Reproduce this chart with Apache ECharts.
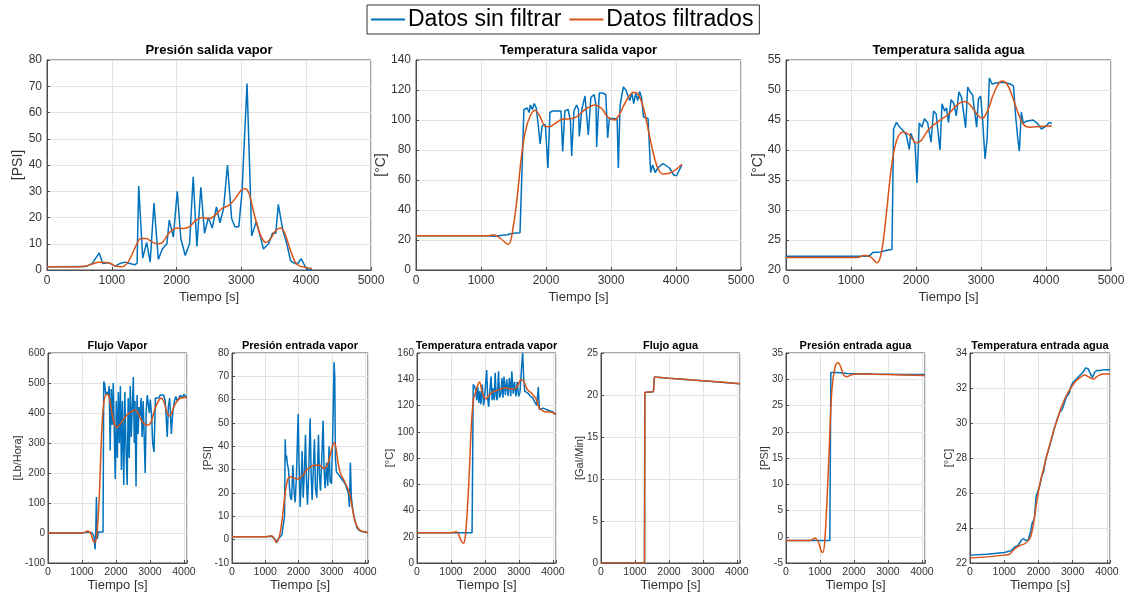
<!DOCTYPE html>
<html><head><meta charset="utf-8">
<script src="https://cdn.jsdelivr.net/npm/echarts@6/dist/echarts.min.js"></script>
<style>html,body{margin:0;padding:0;background:#fff}#c{width:1136px;height:598px}</style>
</head><body><div id="c"></div>
<script>
// ---------- DATA ----------
const titles = ['Presión salida vapor','Temperatura salida vapor','Temperatura salida agua','Flujo Vapor','Presión entrada vapor','Temperatura entrada vapor','Flujo agua','Presión entrada agua','Temperatura entrada agua'];
const yNames = ['[PSI]','[°C]','[°C]','[Lb/Hora]','[PSI]','[°C]','[Gal/Min]','[PSI]','[°C]'];
const xName = 'Tiempo [s]';
const legendNames = ['Datos sin filtrar','Datos filtrados'];

const psv_raw = [[0,1.2],[600,1.3],[700,2.5],[805,6.5],[860,2.5],[950,2.8],[1050,1.5],[1130,2.5],[1200,3],[1280,2.5],[1350,2],[1390,2.5],[1415,32],[1477,4.5],[1538,10.5],[1592,3],[1651,25.5],[1718,4],[1780,8],[1850,10],[1887,19],[1950,12.5],[2010,30],[2065,12],[2133,5.5],[2200,10],[2256,35.5],[2313,9],[2374,31.5],[2431,14],[2490,20],[2550,16],[2615,24],[2670,18],[2725,23.5],[2785,40],[2850,19.5],[2900,16.5],[2960,16.5],[3010,30],[3087,71],[3159,13],[3230,18.5],[3290,13],[3340,8],[3420,10],[3480,14],[3530,14],[3570,25],[3640,15],[3700,10],[3760,3.5],[3820,2.5],[3870,2.5],[3923,4.3],[3990,1],[4030,0.2],[4090,0]];
const psv_filt = [[0,1.2],[500,1.2],[600,1.5],[700,2.3],[800,3],[950,2.8],[1050,1.6],[1150,1.2],[1250,3],[1350,8],[1450,12],[1530,12],[1600,11],[1700,10],[1780,10.5],[1880,14],[2000,16],[2100,15.8],[2200,16.5],[2300,19],[2400,20],[2500,19.5],[2600,21],[2700,23.5],[2800,24.5],[2900,27],[3000,30.5],[3060,31],[3120,29],[3200,21],[3300,13],[3380,10.5],[3450,12],[3530,15],[3600,16],[3670,14],[3750,8],[3830,3],[3900,1.5],[4000,1],[4090,0.5]];

const tsv_raw = [[0,22.8],[1100,22.8],[1200,22.5],[1300,23],[1400,23.5],[1500,24.5],[1600,24.8],[1630,23.5],[1660,107],[1690,106],[1710,108],[1740,105],[1760,110],[1790,107],[1820,111],[1850,108],[1880,97],[1910,84],[1940,96],[1990,97],[2030,68],[2060,105],[2100,106],[2130,107],[2180,106],[2230,106],[2256,79],[2290,106],[2340,107],[2375,100],[2395,76],[2430,106],[2470,110],[2500,107],[2513,89],[2550,107],[2600,116],[2630,116],[2651,90],[2690,115],[2740,117],[2770,110],[2779,82],[2820,118],[2870,118],[2920,117],[2949,88],[2975,101],[3050,101],[3095,100],[3113,68],[3140,110],[3190,122],[3230,120],[3260,116],[3290,113],[3320,118],[3350,111],[3380,118],[3410,113],[3440,119],[3470,115],[3500,102],[3570,101],[3610,65],[3640,70],[3680,65],[3720,68],[3800,71],[3900,68],[3970,63],[4010,63],[4090,70]];
const tsv_filt = [[0,22.8],[1100,22.8],[1200,23.5],[1300,21],[1420,17],[1500,30],[1560,50],[1620,75],[1680,92],[1750,102],[1830,106.5],[1900,103],[1980,96],[2050,95.5],[2150,98],[2250,100.5],[2400,101],[2500,103],[2600,107],[2750,110],[2850,108],[2950,102],[3050,100],[3120,103],[3200,110],[3280,116],[3350,118.5],[3420,117],[3500,108],[3580,92],[3650,78],[3720,68],[3800,64],[3900,64.5],[4000,67],[4090,70.5]];

const tsa_raw = [[0,22.3],[1250,22.3],[1300,22.5],[1330,22.9],[1450,23],[1550,23.3],[1630,23.4],[1655,43.5],[1700,44.6],[1750,43.8],[1800,43.3],[1850,42.5],[1897,40.1],[1920,42.8],[1950,42.5],[1985,41],[2015,34.5],[2050,44.5],[2090,43.8],[2130,45.2],[2180,44.5],[2231,41.3],[2270,46.5],[2310,46],[2369,40],[2400,47.7],[2440,46.5],[2470,47],[2500,44.6],[2540,48.4],[2580,47.8],[2620,45.7],[2660,49.7],[2700,48.8],[2764,43.7],[2795,50.5],[2830,49.7],[2870,49.2],[2933,43.8],[2960,48.5],[2995,49],[3025,45],[3062,38.5],[3095,42],[3128,52],[3170,51],[3250,51.2],[3350,51.3],[3450,51],[3500,50.7],[3530,46],[3565,42],[3590,39.8],[3620,46.3],[3650,44.5],[3700,44.8],[3800,45],[3870,44.4],[3930,43.5],[4000,44],[4050,44.6],[4090,44.4]];
const tsa_filt = [[0,22.1],[1100,22.1],[1200,22.4],[1300,22.2],[1400,21.2],[1470,23],[1550,30],[1620,37],[1700,41.5],[1800,43],[1900,42.5],[2000,41.2],[2080,41.6],[2200,43.5],[2350,44.8],[2500,46],[2650,47.7],[2750,48.1],[2850,47.3],[2950,45.8],[3020,45.3],[3100,46.5],[3200,49.5],[3320,51.5],[3400,51],[3480,49],[3560,46.5],[3650,44.3],[3750,43.8],[3900,43.9],[4090,44]];

const fv_raw = [[0,0],[1000,0],[1100,2],[1200,3],[1300,0],[1350,-10],[1385,-55],[1405,0],[1425,120],[1450,-20],[1480,3],[1620,3],[1640,505],[1670,495],[1700,462],[1740,470],[1770,460],[1800,490],[1830,275],[1860,480],[1890,360],[1920,500],[1980,180],[2010,440],[2040,250],[2070,470],[2100,300],[2130,490],[2160,210],[2190,440],[2230,160],[2260,470],[2290,300],[2330,160],[2360,450],[2390,250],[2420,490],[2450,320],[2510,520],[2540,300],[2560,440],[2590,155],[2620,460],[2650,330],[2680,420],[2710,390],[2740,450],[2770,320],[2800,440],[2860,200],[2890,410],[2920,460],[2950,430],[2980,400],[3010,445],[3050,390],[3080,300],[3120,270],[3160,450],[3200,455],[3260,450],[3300,460],[3350,455],[3400,460],[3450,440],[3510,320],[3540,420],[3580,450],[3630,330],[3670,400],[3720,440],[3760,455],[3800,440],[3850,445],[3900,460],[3950,450],[4000,462],[4050,455],[4090,455]];
const fv_filt = [[0,0],[1000,0],[1100,3],[1150,7],[1250,0],[1330,-25],[1380,-32],[1430,-10],[1500,100],[1550,250],[1600,380],[1650,440],[1700,460],[1760,462],[1820,440],[1880,400],[1950,365],[2020,352],[2100,360],[2200,375],[2300,390],[2400,400],[2500,408],[2580,410],[2650,400],[2750,375],[2850,362],[2950,360],[3050,375],[3150,415],[3250,440],[3330,450],[3400,440],[3480,410],[3560,390],[3620,395],[3700,420],[3800,440],[3900,450],[4000,452],[4090,452]];

const pev_raw = [[0,1.2],[1000,1.2],[1100,1.4],[1200,1.5],[1300,0],[1350,-1],[1400,0.5],[1450,0],[1500,2],[1560,8],[1580,10],[1600,43],[1620,34],[1640,36],[1670,32],[1700,30],[1730,22],[1760,18],[1790,17],[1830,32],[1870,20],[1900,16],[1940,28],[1990,54],[2020,30],[2050,14],[2080,25],[2110,38],[2140,18],[2180,30],[2210,45],[2240,25],[2270,15],[2310,30],[2350,52],[2380,28],[2410,17],[2450,32],[2480,43],[2510,22],[2550,18],[2600,45],[2630,28],[2660,21],[2700,35],[2740,51],[2770,30],[2800,22],[2840,33],[2880,23],[2920,40],[2950,25],[2990,24],[3030,45],[3070,76],[3090,70],[3110,35],[3140,29],[3200,28],[3250,28],[3300,26],[3350,25],[3400,24],[3450,22],[3500,20],[3530,14],[3560,33],[3590,18],[3640,12],[3700,8],[3760,5],[3820,4],[3900,3.5],[4000,3.3],[4090,3]];
const pev_filt = [[0,1.2],[1000,1.2],[1100,1.5],[1200,1.6],[1270,0.5],[1330,-1.2],[1380,-0.5],[1450,3],[1520,10],[1600,20],[1680,26],[1750,27],[1850,26.5],[1950,26],[2050,26.5],[2150,28],[2250,30],[2400,31.5],[2550,32],[2650,31.8],[2750,30.5],[2850,31.5],[2950,36],[3030,40.5],[3080,41.5],[3130,39],[3200,32],[3270,28],[3350,26],[3450,23],[3530,20],[3600,15],[3680,9],[3750,6],[3850,4],[4000,3.3],[4090,3]];

const tev_raw = [[0,23],[1620,23],[1655,136],[1700,134],[1730,131],[1760,124],[1790,134],[1820,122],[1850,131],[1880,121],[1920,136],[1960,120],[2000,130],[2050,147],[2080,125],[2110,119],[2140,130],[2180,142],[2210,124],[2240,133],[2270,124],[2300,145],[2330,127],[2360,124],[2400,146],[2430,126],[2470,129],[2500,141],[2530,126],[2560,142],[2600,128],[2640,140],[2680,127],[2720,141],[2760,127],[2790,146],[2830,129],[2870,138],[2910,127],[2950,138],[2990,127],[3030,130],[3080,150],[3110,160],[3140,140],[3170,131],[3220,131],[3280,129],[3340,127],[3400,126],[3460,123],[3520,120],[3570,134],[3600,117],[3650,117],[3720,118],[3800,117],[3900,116],[4000,115],[4090,113]];
const tev_filt = [[0,23],[1000,23],[1100,23.5],[1150,24],[1220,22],[1300,17],[1370,15],[1420,20],[1480,40],[1540,70],[1600,105],[1660,125],[1700,128],[1780,135],[1840,138],[1900,132],[1960,127],[2020,125],[2100,127],[2200,130],[2300,131],[2400,132],[2500,133],[2600,133.5],[2700,133],[2800,132.5],[2900,133],[2980,136],[3050,139.5],[3110,139.5],[3180,136],[3250,132],[3350,130],[3450,127],[3520,124],[3600,118],[3700,116],[3800,115],[3900,115],[4000,114.5],[4090,113]];

const fa_raw = [[0,0],[1280,0],[1290,20.3],[1540,20.4],[1575,22.15],[2000,22.0],[3000,21.7],[4090,21.35]];
const fa_filt = [[0,0],[1280,0],[1290,20.3],[1540,20.4],[1575,22.15],[2000,22.0],[3000,21.7],[4090,21.35]];

const pea_raw = [[0,-0.7],[1290,-0.7],[1320,31.3],[1500,31.3],[1800,31.1],[2500,31],[3500,30.9],[4090,30.9]];
const pea_filt = [[0,-0.7],[700,-0.7],[850,-0.3],[950,-1],[1030,-2.6],[1080,-3],[1150,0],[1260,15],[1350,28],[1450,32.5],[1530,33.2],[1600,32.5],[1700,30.8],[1800,30.5],[1900,30.8],[2100,31],[3000,30.9],[4090,30.7]];

const tea_raw = [[0,22.45],[500,22.5],[1000,22.6],[1200,22.7],[1300,22.9],[1400,23],[1500,23.3],[1560,23.4],[1620,23.3],[1700,23.3],[1770,23.8],[1820,24.3],[1880,24.5],[1930,25.8],[2000,26.2],[2050,26.5],[2100,27],[2150,27.2],[2200,27.8],[2250,28.2],[2300,28.5],[2350,28.6],[2400,29.2],[2450,29.6],[2500,29.7],[2560,30.3],[2620,30.6],[2700,30.8],[2750,31.1],[2820,31.5],[2900,31.7],[2950,32.1],[3000,32.3],[3100,32.5],[3200,32.7],[3300,32.9],[3380,33.15],[3450,33.1],[3520,32.8],[3580,32.6],[3640,32.9],[3700,33],[3800,33],[3900,33.05],[4090,33.05]];
const tea_filt = [[0,22.3],[500,22.35],[1000,22.45],[1150,22.5],[1300,22.8],[1450,23],[1600,23.1],[1750,23.4],[1850,24.2],[1950,25.5],[2050,26.6],[2150,27.4],[2250,28.2],[2350,28.9],[2450,29.6],[2550,30.2],[2650,30.8],[2750,31.3],[2850,31.7],[2950,32],[3050,32.3],[3150,32.5],[3250,32.65],[3350,32.75],[3450,32.65],[3550,32.55],[3620,32.5],[3700,32.65],[3800,32.75],[3900,32.8],[4090,32.8]];

const rawSets = [psv_raw,tsv_raw,tsa_raw,fv_raw,pev_raw,tev_raw,fa_raw,pea_raw,tea_raw];
const filtSets = [psv_filt,tsv_filt,tsa_filt,fv_filt,pev_filt,tev_filt,fa_filt,pea_filt,tea_filt];
const yMin = [0,0,20,-100,-10,0,0,-5,22];
const yMax = [80,140,55,600,80,160,25,35,34];
const yStep = [10,20,5,100,10,20,5,5,2];
const xMaxTop = 5000, xMaxBottom = 4090, xStep = 1000;

// ---------- LAYOUT ----------
const boxes = [
  [47,60,324,210],[416,60,325,210],[786,60,325,210],
  [48,353,139,210],[232,353,136,210],[417,353,139,210],[601,353,139,210],[786,353,139,210],[970,353,140,210]
];
const yNameGap = [22,28,21,25,19,22,16,16,16];
const BLUE = '#0072BD', ORANGE = '#D95319';

const grids=[], xAxes=[], yAxes=[], series=[], tits=[];
boxes.forEach((b,i)=>{
  const top = i<3;
  grids.push({left:b[0],top:b[1],width:b[2],height:b[3],show:true,borderColor:'#4d4d4d',borderWidth:1,containLabel:false});
  xAxes.push({gridIndex:i,type:'value',min:0,max: top?xMaxTop:xMaxBottom,interval:xStep,
    name:xName,nameLocation:'middle',nameGap: top?21:16,nameMoveOverlap:false,
    nameTextStyle:{fontFamily:'Liberation Sans',fontSize:13,color:'#333'},
    axisLine:{show:true,onZero:false,lineStyle:{color:'#4d4d4d'}},
    axisTick:{show:true,inside:true,length:3,lineStyle:{color:'#4d4d4d'}},
    axisLabel:{fontFamily:'Liberation Sans',fontSize: top?12:10.5,color:'#333',margin: top?5:4,
      formatter:v=> (v % 1000 === 0) ? String(v) : ''},
    splitLine:{show:true,lineStyle:{color:'#e3e3e3',width:1}}});
  yAxes.push({gridIndex:i,type:'value',min:yMin[i],max:yMax[i],interval:yStep[i],
    name:yNames[i],nameLocation:'middle',nameGap:yNameGap[i],nameRotate:90,nameMoveOverlap:false,
    nameTextStyle:{fontFamily:'Liberation Sans',fontSize: top?14:11,color:'#333'},
    axisLine:{show:true,onZero:false,lineStyle:{color:'#4d4d4d'}},
    axisTick:{show:true,inside:true,length:3,lineStyle:{color:'#4d4d4d'}},
    axisLabel:{fontFamily:'Liberation Sans',fontSize: top?12:10,color:'#333',margin: top?5:3},
    splitLine:{show:true,lineStyle:{color:'#e3e3e3',width:1}}});
  series.push({name:legendNames[0],type:'line',xAxisIndex:i,yAxisIndex:i,data:rawSets[i],
    symbol:'none',lineStyle:{color:BLUE,width:1.5},itemStyle:{color:BLUE},animation:false});
  series.push({name:legendNames[1],type:'line',xAxisIndex:i,yAxisIndex:i,data:filtSets[i],
    symbol:'none',smooth:0.35,lineStyle:{color:ORANGE,width:1.5},itemStyle:{color:ORANGE},animation:false});
  tits.push({text:titles[i],left:b[0]+b[2]/2,top: top?44:340,textAlign:'center',padding:0,
    textStyle:{fontFamily:'Liberation Sans',fontWeight:'bold',fontSize: top?13:11,color:'#000'}});
});

const chart = echarts.init(document.getElementById('c'),null,{renderer:'canvas'});
chart.setOption({
  animation:false,
  backgroundColor:'#fff',
  title:tits,
  legend:{data:legendNames,left:367,top:5,width:410,borderColor:'#333',borderWidth:1,padding:[3,6,3,4],
    itemGap:8,itemWidth:34,itemHeight:2,icon:'rect',
    textStyle:{fontFamily:'Liberation Sans',fontSize:23,color:'#000',padding:[0,0,0,-2]}},
  grid:grids, xAxis:xAxes, yAxis:yAxes, series:series
});
</script></body></html>
